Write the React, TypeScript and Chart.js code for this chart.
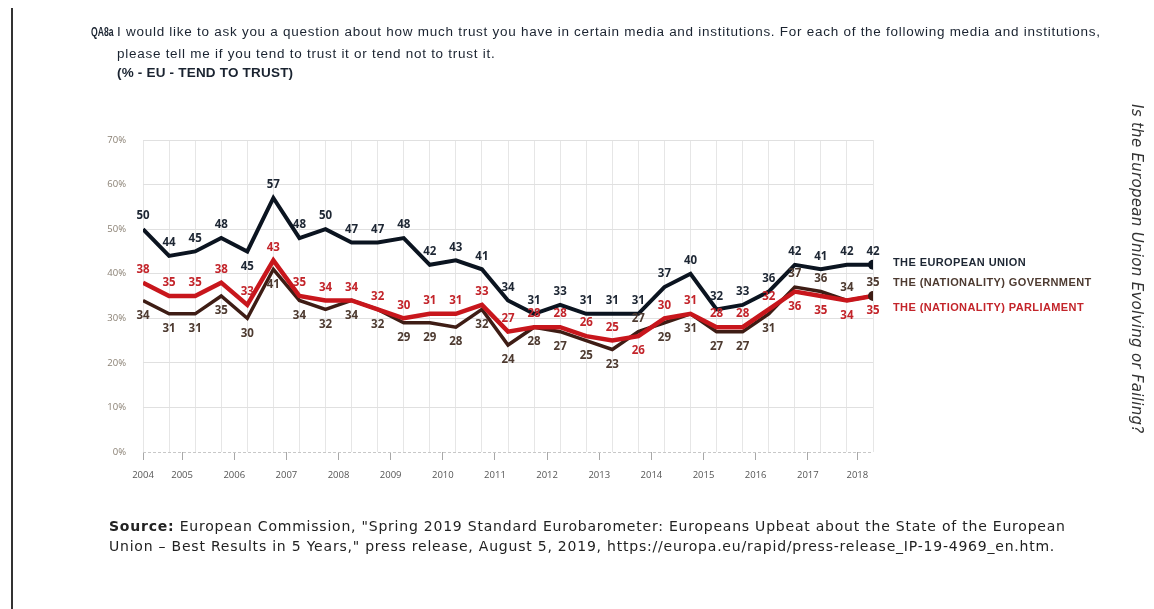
import React, { useEffect, useRef } from 'react';
import { Chart, registerables } from 'chart.js';

Chart.register(...registerables);

// Survey waves (x categories)
const waves = [
  'W01', 'W02', 'W03', 'W04', 'W05', 'W06', 'W07', 'W08', 'W09', 'W10',
  'W11', 'W12', 'W13', 'W14', 'W15', 'W16', 'W17', 'W18', 'W19', 'W20',
  'W21', 'W22', 'W23', 'W24', 'W25', 'W26', 'W27', 'W28', 'W29',
];

const euTrust = [50, 44, 45, 48, 45, 57, 48, 50, 47, 47, 48, 42, 43, 41, 34, 31, 33, 31, 31, 31, 37, 40, 32, 33, 36, 42, 41, 42, 42];
const parliamentTrust = [38, 35, 35, 38, 33, 43, 35, 34, 34, 32, 30, 31, 31, 33, 27, 28, 28, 26, 25, 26, 30, 31, 28, 28, 32, 36, 35, 34, 35];
const governmentTrust = [34, 31, 31, 35, 30, 41, 34, 32, 34, 32, 29, 29, 28, 32, 24, 28, 27, 25, 23, 27, 29, 31, 27, 27, 31, 37, 36, 34, 35];

// Year tick labels and where they fall along the wave index
const yearLabels = ['2004', '2005', '2006', '2007', '2008', '2009', '2010', '2011', '2012', '2013', '2014', '2015', '2016', '2017', '2018'];
const yearTickAt = [0, 1.5, 3.5, 5.5, 7.5, 9.5, 11.5, 13.5, 15.5, 17.5, 19.5, 21.5, 23.5, 25.5, 27.4];

const yTicks = [0, 10, 20, 30, 40, 50, 60, 70];

const seriesNames = ['THE EUROPEAN UNION', 'THE (NATIONALITY) GOVERNMENT', 'THE (NATIONALITY) PARLIAMENT'];
const euLabelBelow = [4];

const C_EU = '#0b1420';
const C_PARL = '#c8161c';
const C_GOV = '#3e1d15';
const C_EU_TXT = '#1d2633';
const C_PARL_TXT = '#c3242a';
const C_GOV_TXT = '#4d3a30';

// which national series gets its label above: higher value, ties keep previous
function nationalAbove(): boolean[] {
  const res: boolean[] = [];
  let prev = true; // true => parliament above
  for (let i = 0; i < parliamentTrust.length; i++) {
    if (parliamentTrust[i] > governmentTrust[i]) prev = true;
    else if (parliamentTrust[i] < governmentTrust[i]) prev = false;
    res.push(prev);
  }
  return res;
}

const labelPlugin = {
  id: 'valueLabels',
  afterDatasetsDraw(chart: any) {
    const ctx = chart.ctx;
    const parlAbove = nationalAbove();
    ctx.save();
    ctx.font = 'bold 11.5px "Open Sans", "DejaVu Sans", sans-serif';
    ctx.textAlign = 'center';
    ctx.textBaseline = 'middle';
    chart.data.datasets.forEach((ds: any, di: number) => {
      const meta = chart.getDatasetMeta(di);
      meta.data.forEach((pt: any, i: number) => {
        const v = ds.data[i].y;
        let above = true;
        let color = C_EU_TXT;
        if (di === 0) {
          above = euLabelBelow.indexOf(i) < 0;
        } else if (di === 1) {
          above = parlAbove[i];
          color = C_PARL_TXT;
        } else {
          above = !parlAbove[i];
          color = C_GOV_TXT;
        }
        ctx.fillStyle = color;
        ctx.fillText(String(v), pt.x, above ? pt.y - 13 : pt.y + 15);
      });
    });
    // series names on the right
    const x0 = chart.chartArea.right + 20;
    ctx.textAlign = 'left';
    ctx.font = 'bold 11px "Liberation Sans", Arial, sans-serif';
    try { (ctx as any).letterSpacing = '0.4px'; } catch (e) { /* ignore */ }
    const ys = [263, 283, 308];
    const cols = [C_EU_TXT, C_GOV_TXT, C_PARL_TXT];
    seriesNames.forEach((n, k) => {
      ctx.fillStyle = cols[k];
      ctx.fillText(n, x0, ys[k]);
    });
    ctx.restore();
  },
};

const lastDot = (n: number) => (c: any) => (c.dataIndex === n - 1 ? 5 : 0);

export default function App() {
  const ref = useRef<HTMLCanvasElement | null>(null);

  useEffect(() => {
    if (!ref.current) return;
    const n = waves.length;
    const toPts = (arr: number[]) => arr.map((v, i) => ({ x: i, y: v }));
    const chart = new Chart(ref.current, {
      type: 'line',
      data: {
        labels: waves,
        datasets: [
          {
            label: seriesNames[0],
            data: toPts(euTrust),
            borderColor: C_EU,
            backgroundColor: C_EU,
            borderWidth: 4,
            pointRadius: lastDot(n),
            pointHoverRadius: 0,
            pointBackgroundColor: C_EU,
            pointBorderWidth: 0,
            tension: 0,
          },
          {
            label: seriesNames[2],
            data: toPts(parliamentTrust),
            borderColor: C_PARL,
            backgroundColor: C_PARL,
            borderWidth: 4.5,
            pointRadius: lastDot(n),
            pointHoverRadius: 0,
            pointBackgroundColor: C_GOV,
            pointBorderWidth: 0,
            tension: 0,
          },
          {
            label: seriesNames[1],
            data: toPts(governmentTrust),
            borderColor: C_GOV,
            backgroundColor: C_GOV,
            borderWidth: 3.5,
            pointRadius: 0,
            pointHoverRadius: 0,
            tension: 0,
          },
        ] as any,
      },
      options: {
        animation: false,
        responsive: false,
        devicePixelRatio: 1,
        layout: { padding: { left: 0, top: 140, right: 281, bottom: 0 } },
        plugins: {
          legend: { display: false },
          title: { display: false },
          tooltip: { enabled: false },
        },
        scales: {
          xg: {
            type: 'linear',
            position: 'top',
            min: 0,
            max: n - 1,
            afterBuildTicks: (s: any) => {
              s.ticks = waves.map((_, i) => ({ value: i }));
            },
            afterFit: (s: any) => {
              s.height = 0;
            },
            ticks: { display: false },
            grid: { color: '#e6e6e6', lineWidth: 1, drawTicks: false },
            border: { display: false },
          },
          x: {
            type: 'linear',
            position: 'bottom',
            min: 0,
            max: n - 1,
            afterBuildTicks: (s: any) => {
              s.ticks = yearTickAt.map((v) => ({ value: v }));
            },
            afterFit: (s: any) => {
              s.height = 157;
            },
            ticks: {
              autoSkip: false,
              maxRotation: 0,
              padding: 10,
              color: '#555',
              font: { family: '"Open Sans", sans-serif', size: 9.5 },
              callback: (_v: any, i: number) => yearLabels[i],
            },
            grid: { drawOnChartArea: false, drawTicks: true, tickLength: 8, color: '#a8a8a8' },
            border: { display: false },
          },
          y: {
            min: 0,
            max: 70,
            afterBuildTicks: (s: any) => {
              s.ticks = yTicks.map((v) => ({ value: v }));
            },
            afterFit: (s: any) => {
              s.width = 143;
            },
            ticks: {
              padding: 17,
              color: '#8a8074',
              font: { family: '"Open Sans", sans-serif', size: 9.5 },
              callback: (v: any) => v + '%',
            },
            grid: {
              drawTicks: false,
              color: (c: any) => (c.tick && c.tick.value === 0 ? '#c8c8c8' : '#e0e0e0'),
            },
            border: {
              display: false,
              dash: (c: any) => (c.tick && c.tick.value === 0 ? [3, 2] : []),
            },
          },
        },
      } as any,
      plugins: [labelPlugin],
    });
    return () => chart.destroy();
  }, []);

  const titleFont = '"Liberation Sans", Arial, sans-serif';
  const titleLine: React.CSSProperties = {
    position: 'absolute', left: 117, fontFamily: titleFont, fontSize: 13.5, color: '#1a2330',
    lineHeight: '16px', whiteSpace: 'nowrap', transform: 'scaleY(0.92)', transformOrigin: 'left center',
  };

  return (
    <div style={{ position: 'absolute', left: 0, top: 0, width: 1154, height: 609, background: '#fff', overflow: 'hidden' }}>
      <div style={{ position: 'absolute', left: 11, top: 8, width: 2, height: 601, background: '#333' }} />
      <canvas ref={ref} width={1154} height={609} style={{ position: 'absolute', left: 0, top: 0, width: 1154, height: 609 }} />
      <div style={{ position: 'absolute', left: 91, top: 24, fontFamily: titleFont, fontSize: 13.5, fontWeight: 'bold', color: '#1a2330', transform: 'scaleX(0.64) scaleY(0.92)', transformOrigin: 'left center', lineHeight: '16px' }}>QA8a</div>
      <div style={{ ...titleLine, top: 24, letterSpacing: '0.73px' }}>
        I would like to ask you a question about how much trust you have in certain media and institutions. For each of the following media and institutions,
      </div>
      <div style={{ ...titleLine, top: 46, letterSpacing: '0.73px' }}>
        please tell me if you tend to trust it or tend not to trust it.
      </div>
      <div style={{ ...titleLine, top: 65, fontWeight: 'bold', letterSpacing: '0.2px' }}>
        (% - EU - TEND TO TRUST)
      </div>
      <div style={{ position: 'absolute', left: 109, top: 516, fontFamily: '"DejaVu Sans", Verdana, sans-serif', fontSize: 14, letterSpacing: '0.78px', color: '#222', lineHeight: '20px', whiteSpace: 'nowrap' }}>
        <div><b>Source:</b> European Commission, "Spring 2019 Standard Eurobarometer: Europeans Upbeat about the State of the European</div>
        <div>Union – Best Results in 5 Years," press release, August 5, 2019, https://europa.eu/rapid/press-release_IP-19-4969_en.htm.</div>
      </div>
      <div style={{ position: 'absolute', left: 1128, top: 104, writingMode: 'vertical-rl', fontFamily: '"DejaVu Sans", Verdana, sans-serif', fontStyle: 'italic', fontSize: 15, letterSpacing: '0.3px', color: '#333', whiteSpace: 'nowrap' }}>
        Is the European Union Evolving or Failing?
      </div>
    </div>
  );
}
